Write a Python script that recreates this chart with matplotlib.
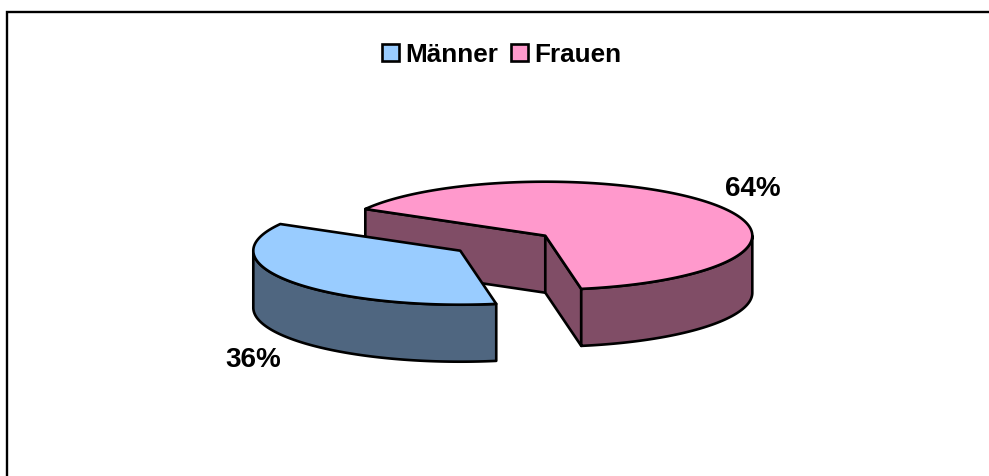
import numpy as np
import matplotlib
matplotlib.use("Agg")
import matplotlib.pyplot as plt
from matplotlib.patches import Polygon, Patch

categories = ["Männer", "Frauen"]
values = [36, 64]
labels = ["36%", "64%"]
top_colors = ["#99CCFF", "#FF99CC"]
side_colors = ["#4F6680", "#804D66"]

W, H = 989, 477
fig = plt.figure(figsize=(W / 100, H / 100), dpi=100, facecolor="white")
ax = fig.add_axes([0, 0, 1, 1])
ax.set_xlim(0, W)
ax.set_ylim(H, 0)
ax.axis("off")
plt.rcParams["font.family"] = ["Liberation Sans", "DejaVu Sans"]

RX, RY, DEPTH = 207.0, 54.0, 57.0
LW = 1.9
FONT = 20
LEGEND_FONT = 18.8
centers = {"Männer": (460.3, 251.7), "Frauen": (545.3, 236.7)}

# Frauen runs clockwise from the start angle, Männer continues from where it ends
a_start = 150.4
a_end = a_start - values[1] / sum(values) * 360.0
spans = {"Frauen": (a_start, a_end), "Männer": (a_end, a_start - 360.0)}


def arc(c, a0, a1, dy=0.0, n=160):
    t = np.radians(np.linspace(a0, a1, n))
    return np.column_stack([c[0] + RX * np.cos(t), c[1] - RY * np.sin(t) + dy])


def poly(pts, color, z):
    ax.add_patch(Polygon(pts, closed=True, facecolor=color, edgecolor="black",
                         lw=LW, joinstyle="round", zorder=z))


def cut_face(c, a, color, z):
    e = arc(c, a, a, n=1)[0]
    poly([e, c, (c[0], c[1] + DEPTH), (e[0], e[1] + DEPTH)], color, z)


def wall(c, a0, a1, color, z):
    upper = arc(c, a0, a1)
    lower = arc(c, a0, a1, DEPTH)[::-1]
    poly(np.vstack([upper, lower]), color, z)


def top(c, a0, a1, color, z):
    poly(np.vstack([[c], arc(c, a0, a1)]), color, z)


# Frauen
c = centers["Frauen"]
a0, a1 = spans["Frauen"]
cut_face(c, a0, side_colors[1], 1)
cut_face(c, a1, side_colors[1], 2)
wall(c, 0.0, a1, side_colors[1], 2)
top(c, a0, a1, top_colors[1], 3)

# Männer
c = centers["Männer"]
a0, a1 = spans["Männer"]
wall(c, a0, -180.0, side_colors[0], 4)
top(c, a0, a1, top_colors[0], 5)

# Frame (open on the right and bottom, as in the reference)
ax.plot([7, 7, W], [H, 13, 13], color="black", lw=1.7, solid_joinstyle="miter",
        clip_on=False, zorder=6)

# Data labels
ax.text(253, 360, labels[0], ha="center", va="center", fontsize=FONT,
        fontweight="bold", color="black", zorder=7)
ax.text(753, 189, labels[1], ha="center", va="center", fontsize=FONT,
        fontweight="bold", color="black", zorder=7)

# Legend
handles = [Patch(facecolor=top_colors[i], edgecolor="black", lw=LW, label=categories[i])
           for i in range(2)]
ax.legend(handles=handles, loc="center", bbox_to_anchor=(501.5 / W, 1 - 55.5 / H),
          ncol=2, frameon=False, prop={"size": LEGEND_FONT, "weight": "bold"},
          handlelength=0.66, handleheight=0.66, handletextpad=0.22,
          columnspacing=0.5, borderpad=0, borderaxespad=0)

fig.savefig("out.png", dpi=100, facecolor="white")
